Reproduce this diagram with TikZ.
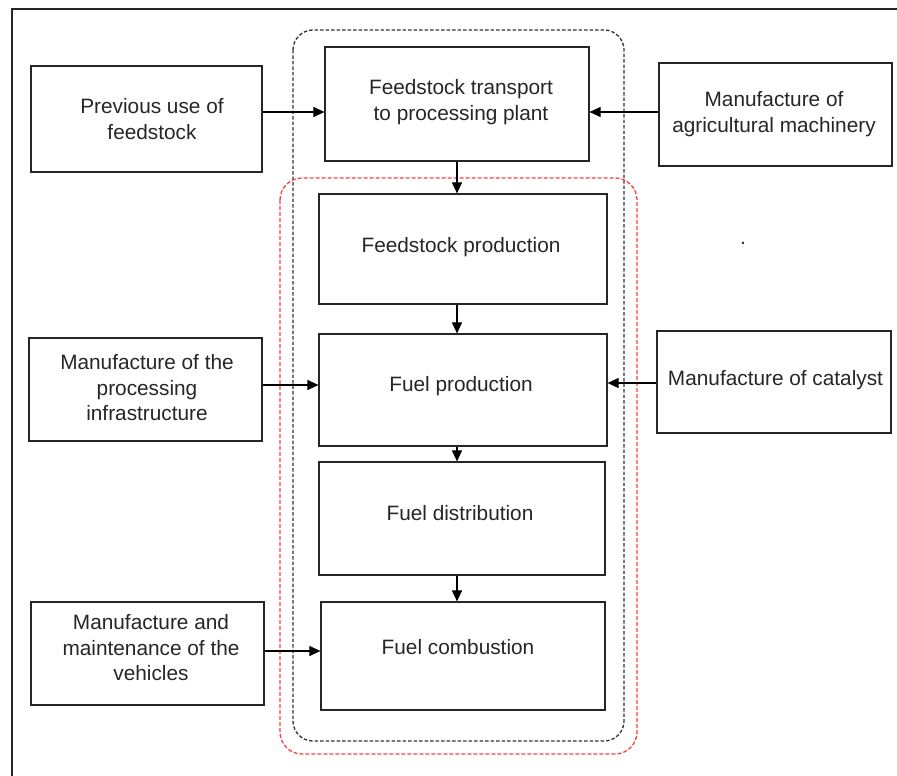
\documentclass[tikz,border=0pt]{standalone}
\usepackage{fontspec}
\setmainfont{Liberation Sans}
\usetikzlibrary{arrows.meta}
\begin{document}
\begin{tikzpicture}[x=1pt,y=-1pt,
  box/.style={draw=black!85, line width=1.2pt, inner sep=0pt, minimum width=#1},
  lbl/.style={align=center, inner sep=0pt, text=black!85, font=\fontsize{20.8}{25.5}\selectfont},
  arr/.style={draw=black, line width=1.1pt, -{Triangle[length=11pt,width=10pt]}}
]
\useasboundingbox (0,0) rectangle (897,776);
% outer frame (open at right and bottom)
\draw[line width=1.5pt, black!85] (12,776) -- (12,9) -- (897,9);
% dashed system boundaries
\draw[black!80, line width=1.3pt, dash pattern=on 3.5pt off 2pt, rounded corners=20pt] (293,30) rectangle (624,741);
\draw[red!75, line width=1.3pt, dash pattern=on 4pt off 2pt, rounded corners=22pt] (280,178) rectangle (637,754);
% boxes
\node[box=231pt, minimum height=106pt] (prev) at (146.5,119) {};
\node[box=264pt, minimum height=114pt] (trans) at (457,104) {};
\node[box=233pt, minimum height=103pt] (mach) at (775.5,114.5) {};
\node[box=288pt, minimum height=110pt] (fsp) at (463,249) {};
\node[box=288pt, minimum height=112pt] (fp) at (463,390) {};
\node[box=286pt, minimum height=113pt] (fd) at (462,518.5) {};
\node[box=284pt, minimum height=108pt] (fc) at (463,656) {};
\node[box=233pt, minimum height=103pt] (infra) at (145.5,389.5) {};
\node[box=234pt, minimum height=102pt] (cat) at (774,382) {};
\node[box=233pt, minimum height=103pt] (veh) at (147.5,653.5) {};
% texts
\node[lbl] (prev-t) at (152,119) {Previous use of\\feedstock};
\node[lbl] (trans-t) at (461,102) {Feedstock transport\\to processing plant};
\node[lbl] (mach-t) at (774,114) {Manufacture of\\agricultural machinery};
\node[lbl] (fsp-t) at (461,247) {Feedstock production};
\node[lbl] (fp-t) at (461,386) {Fuel production};
\node[lbl] (fd-t) at (460,513) {Fuel distribution};
\node[lbl] (fc-t) at (458,647) {Fuel combustion};
\node[lbl] (infra-t) at (147,388) {Manufacture of the\\processing\\infrastructure};
\node[lbl] (cat-t) at (775.5,380) {Manufacture of catalyst};
\node[lbl] (veh-t) at (151,648) {Manufacture and\\maintenance of the\\vehicles};
\node[lbl] (dot) at (743,243) {.};
% connectors
\draw[arr] (prev.east |- 0,112) -- (trans.west |- 0,112);
\draw[arr] (mach.west |- 0,112) -- (trans.east |- 0,112);
\draw[arr] (trans.south) -- (trans.south |- fsp.north);
\draw[arr] (trans.south |- fsp.south) -- (trans.south |- fp.north);
\draw[arr] (trans.south |- fp.south) -- (trans.south |- fd.north);
\draw[arr] (trans.south |- fd.south) -- (trans.south |- fc.north);
\draw[arr] (infra.east |- 0,385) -- (fp.west |- 0,385);
\draw[arr] (cat.west |- 0,383) -- (fp.east |- 0,383);
\draw[arr] (veh.east |- 0,651) -- (fc.west |- 0,651);
\end{tikzpicture}
\end{document}
